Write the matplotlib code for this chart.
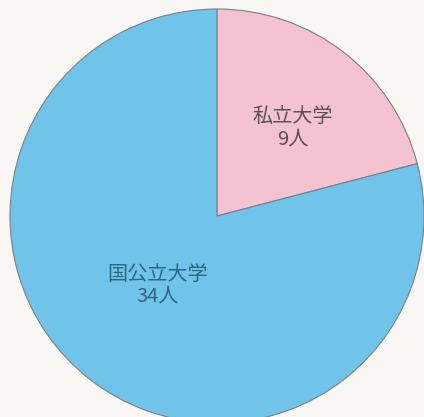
import numpy as np
import matplotlib
matplotlib.use("Agg")
import matplotlib.pyplot as plt

plt.rcParams['font.family'] = ['Noto Sans CJK JP', 'DejaVu Sans']

# data
categories = ['私立大学', '国公立大学']
counts = [9, 34]
colors = ['#f5c2d2', '#70c4ea']
text_colors = ['#5a5258', '#2e6784']
label_dist = [0.56, 0.44]

fig = plt.figure(figsize=(4.24, 4.17), dpi=100, facecolor='#f8f7f3')
ax = fig.add_axes([0, 0, 1, 1])
ax.set_facecolor('#f8f7f3')

center = (217, 201)
radius = 207
wedges, _ = ax.pie(counts, colors=colors, startangle=90, counterclock=False,
                   center=center, radius=radius, frame=True,
                   wedgeprops={'edgecolor': '#7a7f86', 'linewidth': 0.8})

for w, name, n, tc, d in zip(wedges, categories, counts, text_colors, label_dist):
    mid = np.deg2rad((w.theta1 + w.theta2) / 2 - 3)
    x = center[0] + d * radius * np.cos(mid)
    y = center[1] + d * radius * np.sin(mid)
    ax.text(x, y, f'{name}\n{n}人', ha='center', va='center', fontsize=14.5,
            color=tc, linespacing=1.05)

ax.set_xlim(0, 424)
ax.set_ylim(0, 417)
ax.set_aspect('equal')
ax.axis('off')

fig.savefig('out.png', dpi=100, facecolor=fig.get_facecolor())
